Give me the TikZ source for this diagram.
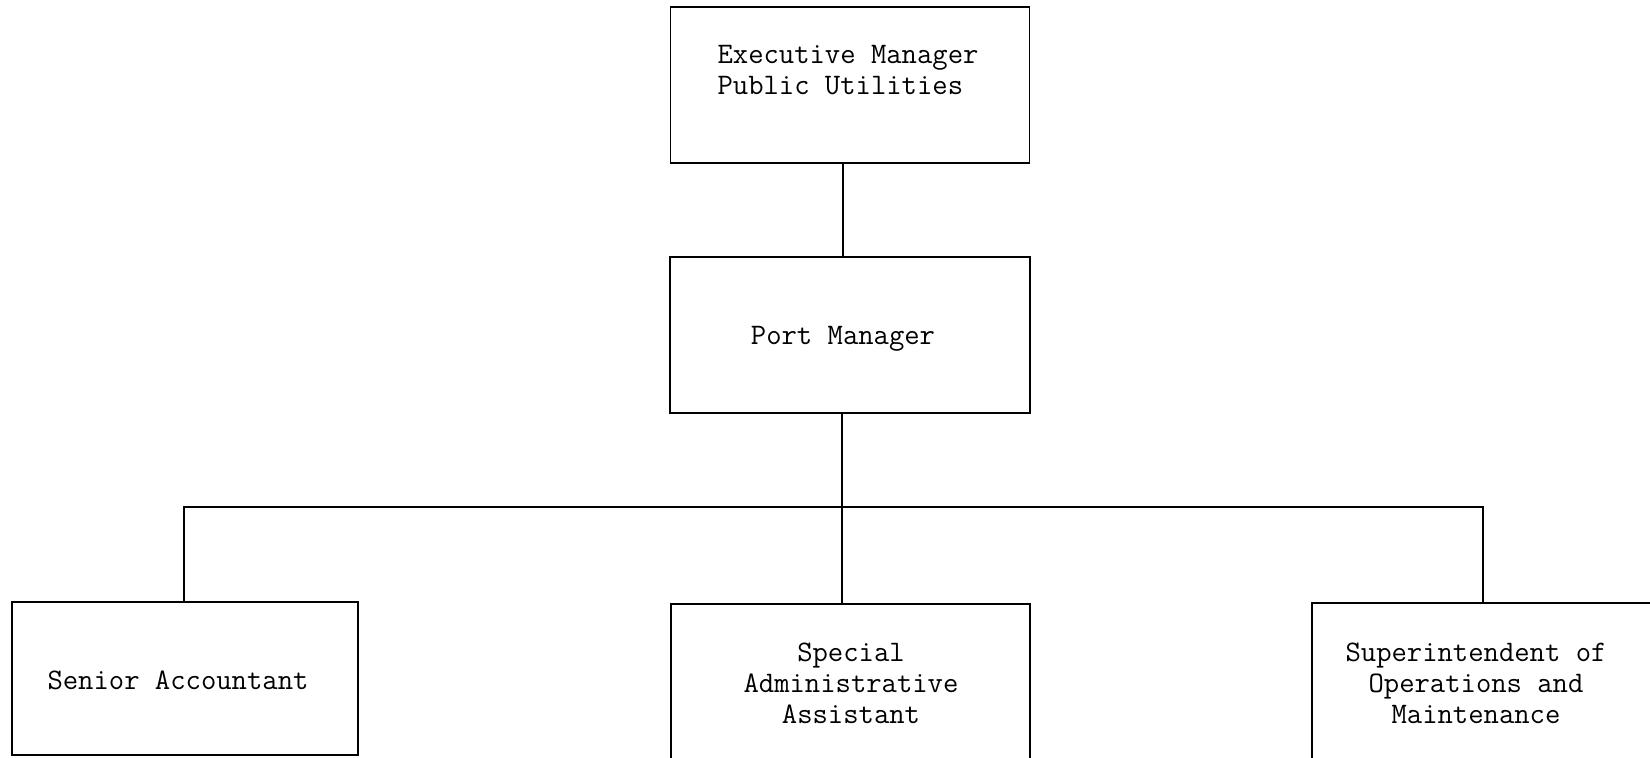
\documentclass[tikz,border=0pt]{standalone}
\usepackage{fontspec}
\begin{document}
\begin{tikzpicture}[x=1pt,y=-1pt,
  line width=1.7pt,
  box/.style={draw, rectangle, inner sep=0pt},
  lbl/.style={font=\ttfamily\fontsize{29.8}{31}\selectfont\addfontfeature{FakeBold=2.5}, align=center, inner sep=0pt},
  link/.style={line width=1.7pt}]
\useasboundingbox (0,0) rectangle (1650,758);
\clip (0,0) rectangle (1650,758);
% boxes
\node[box, minimum width=359pt, minimum height=156pt] (exec) at (850,85) {};
\node[lbl, align=left] (execT) at (848,70) {Executive Manager\\Public Utilities};
\node[box, minimum width=360pt, minimum height=156pt] (port) at (850,335) {};
\node[lbl] (portT) at (843,339) {Port Manager};
\node[box, minimum width=346pt, minimum height=153pt] (acct) at (185,678.5) {};
\node[lbl] (acctT) at (178,680) {Senior Accountant};
\node[box, minimum width=359pt, minimum height=176pt] (spec) at (850.5,692) {};
\node[lbl] (specT) at (851,683) {Special\\Administrative\\Assistant};
\node[box, minimum width=346pt, minimum height=176pt] (sup) at (1485,691) {};
\node[lbl] (supT) at (1476,683) {Superintendent of\\Operations and\\Maintenance};
% connectors
\draw[link] (exec.south -| 843,0) -- (port.north -| 843,0);
\draw[link] (port.south -| 842,0) -- (spec.north -| 842,0);
\draw[link] (acct.north -| 184,0) -- (184,507) -- (1483,507) -- (sup.north -| 1483,0);
\end{tikzpicture}
\end{document}
